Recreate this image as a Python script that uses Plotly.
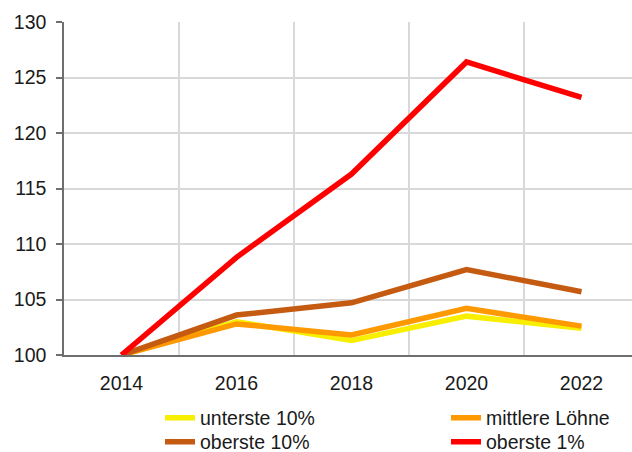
import plotly.graph_objects as go

years = [2014, 2016, 2018, 2020, 2022]
unterste_10 = [100, 103.0, 101.3, 103.5, 102.4]
mittlere = [100, 102.8, 101.8, 104.2, 102.6]
oberste_10 = [100, 103.6, 104.7, 107.7, 105.7]
oberste_1 = [100, 108.8, 116.3, 126.4, 123.2]

series = [
    ("unterste 10%", unterste_10, "#F7EE00", "legend"),
    ("mittlere Löhne", mittlere, "#FF9900", "legend"),
    ("oberste 10%", oberste_10, "#C55A11", "legend2"),
    ("oberste 1%", oberste_1, "#FF0000", "legend2"),
]

FONT = "Liberation Sans, Arial, sans-serif"
FS = 19.5

fig = go.Figure()
for name, vals, col, lg in series:
    fig.add_trace(go.Scatter(x=years, y=vals, name=name, mode="lines",
                             line=dict(color=col, width=5.5), legend=lg))

leg_common = dict(orientation="h", xref="container", yref="container",
                  x=160/632, xanchor="left", yanchor="middle",
                  entrywidth=241, entrywidthmode="pixels",
                  font=dict(size=FS), bgcolor="rgba(0,0,0,0)",
                  borderwidth=0)

fig.update_layout(
    width=632, height=452,
    margin=dict(l=64, r=0, t=22, b=97),
    plot_bgcolor="white", paper_bgcolor="white",
    font=dict(family=FONT, size=FS, color="#1a1a1a"),
    showlegend=True,
    legend=dict(leg_common, y=1-418/452),
    legend2=dict(leg_common, y=1-442/452),
    xaxis=dict(range=[2013, 2013 + 568/57.5], tickvals=years,
               ticktext=[str(y) for y in years], showgrid=False,
               ticks="", showline=True, linecolor="#6e6e6e", linewidth=1.5,
               ticklabelstandoff=10, zeroline=False, automargin=False,
               minor=dict(tickvals=[2015, 2017, 2019, 2021], showgrid=True,
                          gridcolor="#d9d9d9", gridwidth=1.5, ticks="")),
    yaxis=dict(range=[100, 130], tickvals=[100, 105, 110, 115, 120, 125, 130],
               showgrid=True, gridcolor="#d9d9d9", gridwidth=1.5,
               ticks="outside", ticklen=6, tickcolor="#6e6e6e", tickwidth=1.5,
               showline=True, linecolor="#6e6e6e", linewidth=1.5,
               ticklabelstandoff=6, zeroline=False, automargin=False),
)

fig.write_html("out.html", config={"displayModeBar": False},
               post_script="document.body.style.margin='0px';document.body.style.overflow='hidden';")
